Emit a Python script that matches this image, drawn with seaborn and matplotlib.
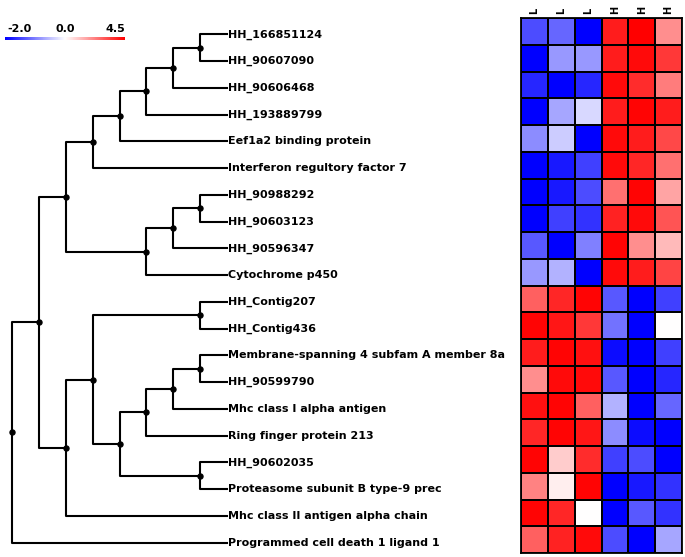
import numpy as np
import pandas as pd
import matplotlib
matplotlib.use("Agg")
from matplotlib import pyplot as plt
from matplotlib.colors import LinearSegmentedColormap, TwoSlopeNorm
import seaborn as sns

genes = [
    "HH_166851124",
    "HH_90607090",
    "HH_90606468",
    "HH_193889799",
    "Eef1a2 binding protein",
    "Interferon regultory factor 7",
    "HH_90988292",
    "HH_90603123",
    "HH_90596347",
    "Cytochrome p450",
    "HH_Contig207",
    "HH_Contig436",
    "Membrane-spanning 4 subfam A member 8a",
    "HH_90599790",
    "Mhc class I alpha antigen",
    "Ring finger protein 213",
    "HH_90602035",
    "Proteasome subunit B type-9 prec",
    "Mhc class II antigen alpha chain",
    "Programmed cell death 1 ligand 1",
]
samples = ["L", "L", "L", "H", "H", "H"]

# expression values (scale -2.0 .. 4.5)
values = [
    [-1.4, -1.2, -2.0, 4.0, 4.5, 2.0],
    [-2.0, -0.8, -0.8, 4.0, 4.3, 3.5],
    [-1.7, -2.0, -1.7, 4.3, 3.7, 2.3],
    [-2.0, -0.7, -0.3, 4.0, 4.4, 4.0],
    [-0.9, -0.4, -2.0, 4.3, 4.0, 3.2],
    [-2.0, -1.8, -1.5, 4.3, 3.8, 2.5],
    [-2.0, -1.8, -1.4, 2.5, 4.4, 1.6],
    [-2.0, -1.5, -1.6, 3.9, 4.3, 3.0],
    [-1.3, -2.0, -1.0, 4.4, 2.0, 1.2],
    [-0.8, -0.6, -2.0, 4.3, 4.0, 3.3],
    [2.8, 3.8, 4.4, -1.3, -2.0, -1.5],
    [4.4, 4.1, 3.5, -1.1, -2.0, 0.0],
    [4.0, 4.4, 4.2, -1.9, -2.0, -1.5],
    [2.0, 4.3, 4.3, -1.3, -2.0, -1.7],
    [4.2, 4.4, 2.8, -0.6, -2.0, -1.2],
    [3.8, 4.4, 4.1, -0.9, -1.9, -2.0],
    [4.4, 0.9, 3.7, -1.5, -1.4, -2.0],
    [2.2, 0.3, 4.4, -2.0, -1.8, -1.6],
    [4.4, 3.8, 0.0, -2.0, -1.3, -1.6],
    [2.8, 3.9, 4.3, -1.4, -2.0, -0.7],
]

# tree: (child a, child b, height); leaves 0..19, new nodes numbered from 20
merges = [
    (0, 1, 1), (20, 2, 2), (21, 3, 3), (22, 4, 4), (23, 5, 5),
    (6, 7, 1), (25, 8, 2), (26, 9, 3), (24, 27, 6),
    (10, 11, 1), (12, 13, 1), (30, 14, 2), (31, 15, 3), (16, 17, 1),
    (32, 33, 4), (29, 34, 5), (35, 18, 6), (28, 36, 7), (37, 19, 8),
]

W, H = 685, 557
fig = plt.figure(figsize=(W / 100, H / 100), dpi=100)

def px_axes(left, top, right, bottom):
    return fig.add_axes([left / W, 1 - bottom / H, (right - left) / W, (bottom - top) / H])

# heatmap
hax = px_axes(521, 18, 682, 553)
cax = px_axes(5, 37, 125, 39.5)
cmap = LinearSegmentedColormap.from_list("bwr_", ["#0000ff", "#ffffff", "#ff0000"])
df = pd.DataFrame(values, index=genes, columns=range(len(samples)))
sns.heatmap(df, ax=hax, cmap=cmap, norm=TwoSlopeNorm(vcenter=0, vmin=-2, vmax=4.5),
            linewidths=1.3, linecolor="black", cbar_ax=cax,
            cbar_kws={"orientation": "horizontal"}, yticklabels=False)
hax.xaxis.tick_top()
hax.set_xticklabels(samples, rotation=90, fontsize=7, fontweight="bold")
hax.tick_params(axis="x", length=0, pad=3)
hax.set_ylabel("")
for s in hax.spines.values():
    s.set_visible(True)
    s.set_color("black")
    s.set_linewidth(1.3)

cax.set_xticks([])
cax.set_yticks([])
cbar = hax.collections[0].colorbar
if cbar is not None:
    cbar.outline.set_visible(False)
    cbar.set_ticks([])
for x, txt, ha in [(7, "-2.0", "left"), (65, "0.0", "center"), (125, "4.5", "right")]:
    fig.text(x / W, 1 - 29 / H, txt, ha=ha, va="center", fontsize=8, fontweight="bold")

# dendrogram
dax = px_axes(0, 21, 227, 556)
dax.set_xlim(8.45, 0)
dax.set_ylim(len(genes) - 0.5, -0.5)
dax.axis("off")
pos = {i: (0, i) for i in range(len(genes))}
for k, (a, b, h) in enumerate(merges):
    ha_, ya = pos[a]
    hb, yb = pos[b]
    dax.plot([ha_, h, h, hb], [ya, ya, yb, yb], color="black", lw=1.5, clip_on=False)
    pos[len(genes) + k] = (h, (ya + yb) / 2)
    dax.plot(h, (ya + yb) / 2, "o", color="black", ms=3.6, clip_on=False)
for i, g in enumerate(genes):
    dax.text(-0.02, i, g, ha="left", va="center", fontsize=8, fontweight="bold", clip_on=False)

fig.savefig("out.png", dpi=100)
